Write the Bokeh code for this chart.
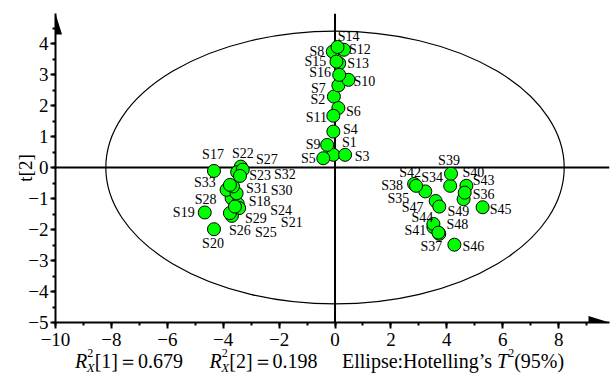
from bokeh.plotting import figure
from bokeh.layouts import column
from bokeh.models import (ColumnDataSource, Span, PolyAnnotation, Div,
                          SingleIntervalTicker, Range1d)
from bokeh.embed import file_html
from bokeh.resources import INLINE
from bokeh.core.properties import value

# ---------------- data ----------------
names = ["S1", "S2", "S3", "S4", "S5", "S6", "S7", "S8", "S9", "S10",
         "S11", "S12", "S13", "S14", "S15", "S16", "S17", "S18", "S19", "S20",
         "S21", "S22", "S23", "S24", "S25", "S26", "S27", "S28", "S29", "S30",
         "S31", "S32", "S33", "S34", "S35", "S36", "S37", "S38", "S39", "S40",
         "S41", "S42", "S43", "S44", "S45", "S46", "S47", "S48", "S49"]
t1 = [-0.06, -0.04, 0.36, -0.06, -0.42, 0.12, 0.12, -0.08, -0.28, 0.48,
      -0.06, 0.32, 0.15, 0.09, 0.05, 0.15, -4.33, -3.70, -4.66, -4.33,
      -3.48, -3.37, -3.50, -3.43, -3.69, -3.76, -3.30, -3.88, -3.58, -3.52,
      -3.65, -3.40, -3.76, 4.12, 3.23, 4.60, 3.73, 2.83, 4.15, 4.70,
      3.52, 2.90, 4.64, 3.52, 5.28, 4.27, 3.60, 3.70, 3.73]
t2 = [0.41, 2.29, 0.41, 1.16, 0.30, 1.92, 2.65, 3.74, 0.73, 2.83,
      1.67, 3.80, 3.36, 3.89, 3.42, 2.99, -0.11, -0.99, -1.45, -1.99,
      -1.17, 0.03, -0.15, -1.31, -1.56, -1.47, -0.07, -0.72, -1.26, -0.83,
      -0.61, -0.27, -0.56, -0.59, -0.77, -1.02, -2.14, -0.53, -0.20, -0.59,
      -1.92, -0.59, -0.81, -1.82, -1.28, -2.49, -1.08, -2.10, -1.26]

x_ticks = [-10, -8, -6, -4, -2, 0, 2, 4, 6, 8]
x_tick_labels = ["\u221210", "\u22128", "\u22126", "\u22124", "\u22122", "0", "2", "4", "6", "8"]
y_ticks = [-5, -4, -3, -2, -1, 0, 1, 2, 3, 4]
y_tick_labels = ["\u22125", "\u22124", "\u22123", "\u22122", "\u22121", "0", "1", "2", "3", "4"]

ellipse_a = 8.2   # Hotelling T2 95% semi-axis along t[1]
ellipse_b = 4.4   # semi-axis along t[2]
r2x_1 = "0.679"
r2x_2 = "0.198"
y_title = "t[2]"

# ---------------- label placement (pixels, layout only) ----------------
label_dx = [16, -16, 17, 17, -15, 15, -20, -16, -14, 16,
            -17, 16, 19, 11, -21, -19, -1, 28, -21, -1,
            54, 2, 23, 42, 34, 10, 24, -21, 21, 45,
            24, 45, -25, -18, -27, 20, -8, -22, -2, 7,
            -18, -6, 19, -11, 18, 19, -23, 19, 19]
label_dy = [-12, 3, 2, -2, 0, 3, 3, 0, 0, 2,
            2, 0, 0, -10, 0, -2, -16, 3, 0, 14,
            19, -13, 3, 2, 17, 17, -10, 10, 12, -3,
            2, -1, -2, -8, 7, -5, 13, 2, -13, -13,
            3, -13, -12, -6, 2, 2, 6, -8, 5]

# ---------------- layout ----------------
W, H = 611, 351
FOOT_H = 375 - H
ML, MR, MT, MB = 55, 2, 13, 29
X0, X1 = -10.0, 9.82
Y0, Y1 = -5.0, 4.97
SX = (W - ML - MR) / (X1 - X0)
SY = (H - MT - MB) / (Y1 - Y0)

FONT = "'Liberation Serif', 'Times New Roman', 'DejaVu Serif', serif"

p = figure(width=W, height=H, x_range=Range1d(X0, X1), y_range=Range1d(Y0, Y1),
           output_backend="svg", toolbar_location=None,
           min_border_left=ML, min_border_right=MR,
           min_border_top=MT, min_border_bottom=MB)
p.grid.visible = False
p.outline_line_color = None
p.background_fill_color = "white"

for ax, ticks, labels, interval in ((p.xaxis[0], x_ticks, x_tick_labels, 2),
                                    (p.yaxis[0], y_ticks, y_tick_labels, 1)):
    ax.ticker = SingleIntervalTicker(interval=interval, num_minor_ticks=2)
    ax.major_label_overrides = {float(t): l for t, l in zip(ticks, labels)}
    ax.axis_line_width = 2
    ax.axis_line_color = "black"
    ax.major_tick_line_width = 2
    ax.minor_tick_line_width = 2
    ax.major_tick_line_color = "black"
    ax.minor_tick_line_color = "black"
    ax.major_tick_in = 0
    ax.minor_tick_in = 0
    ax.major_tick_out = 6
    ax.minor_tick_out = 3
    ax.major_label_text_font = FONT
    ax.major_label_text_font_size = "19px"
    ax.major_label_text_color = "black"
p.xaxis[0].major_label_standoff = 4
p.yaxis[0].major_label_standoff = 2
p.yaxis[0].major_tick_out = 5
p.yaxis[0].axis_label = y_title
p.yaxis[0].axis_label_text_font = FONT
p.yaxis[0].axis_label_text_font_size = "19px"
p.yaxis[0].axis_label_text_font_style = "normal"
p.yaxis[0].axis_label_text_color = "black"
p.yaxis[0].axis_label_standoff = -11

# zero lines
p.add_layout(Span(location=0, dimension="height", line_color="black",
                  line_width=2, level="underlay"))
p.add_layout(Span(location=0, dimension="width", line_color="black",
                  line_width=2, level="underlay"))

# Hotelling ellipse
p.ellipse(x=[0], y=[0], width=[2 * ellipse_a], height=[2 * ellipse_b],
          fill_color=None, line_color="black", line_width=1.2)

src = ColumnDataSource(dict(t1=t1, t2=t2, name=names, dx=label_dx, dy=label_dy))
p.scatter(x="t1", y="t2", source=src, size=13, marker="circle",
          fill_color="#00FF00", line_color="black", line_width=1)
p.text(x="t1", y="t2", text="name", source=src, x_offset="dx", y_offset="dy",
       text_font=value(FONT), text_font_size="14px", text_align="center",
       text_baseline="middle", text_color="black")

# arrow heads on axes
ah_len, ah_half = 21, 6.5
p.add_layout(PolyAnnotation(
    xs=[X1, X1 - ah_len / SX, X1 - ah_len / SX],
    ys=[Y0, Y0 + ah_half / SY, Y0 - ah_half / SY],
    fill_color="black", fill_alpha=1, line_color=None, level="overlay"))
p.add_layout(PolyAnnotation(
    xs=[X0, X0 - ah_half / SX, X0 + ah_half / SX],
    ys=[Y1, Y1 - ah_len / SY, Y1 - ah_len / SY],
    fill_color="black", fill_alpha=1, line_color=None, level="overlay"))

# ---------------- footer text (real HTML text) ----------------
CSS_FONT = "'Liberation Serif','Times New Roman','DejaVu Serif',serif"
SUP = '<span style="font-size:12px;position:relative;top:-11px">2</span>'
SUB = ('<span style="font-size:13px;font-style:italic;position:relative;'
       'top:4px;margin-left:-6.5px">X</span>')


def r2_group(left, idx, val):
    return (f'<span style="position:absolute;left:{left}px;top:0">'
            f'<i>R</i>{SUP}{SUB}[{idx}]\uff1d{val}</span>')


footer_html = (
    f'<div style="position:relative;width:{W}px;height:{FOOT_H}px;'
    f"font-family:{CSS_FONT};font-size:20px;line-height:20px;"
    'white-space:nowrap;color:black;margin:0;padding:0">'
    + r2_group(75, "1", r2x_1)
    + r2_group(209.6, "2", r2x_2)
    + '<span style="position:absolute;left:342px;top:0">'
      'Ellipse:Hotelling\u2019s <i>T</i>'
    + SUP + '(95%)</span></div>'
)

footer = Div(text=footer_html, width=W, height=FOOT_H, margin=(0, 0, 0, 0))

layout = column(p, footer, spacing=0)

open("out.html", "w").write(file_html(layout, INLINE))
